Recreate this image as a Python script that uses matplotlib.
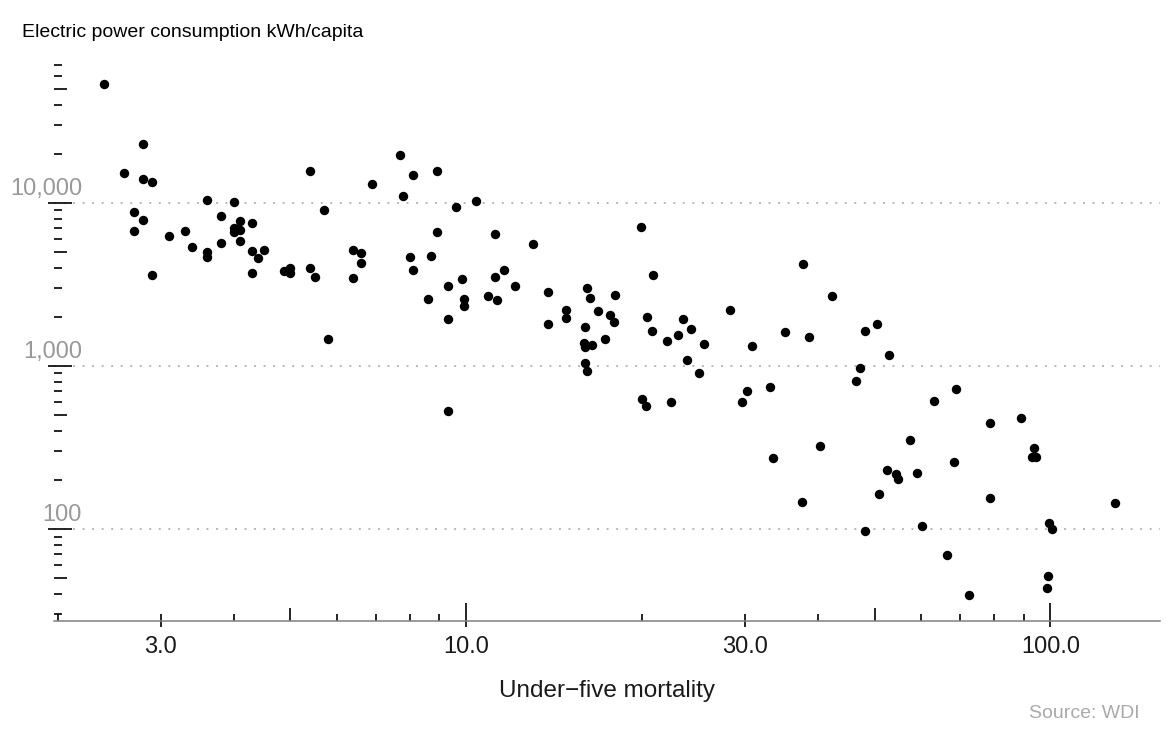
import numpy as np
import matplotlib
matplotlib.use('Agg')
import matplotlib.pyplot as plt
import matplotlib.ticker as ticker
import matplotlib.transforms as mtransforms

plt.rcParams['font.family'] = ['Liberation Sans', 'DejaVu Sans']

# Under-five mortality (per 1,000) vs electric power consumption (kWh/capita)
mortality = [2.40, 2.80, 2.60, 2.80, 2.90, 2.70, 2.80, 2.70, 2.90, 3.10,
             3.30, 3.40, 3.60, 3.60, 3.60, 3.80, 3.80, 4.00, 4.00, 4.00,
             4.10, 4.10, 4.10, 4.04, 4.30, 4.30, 4.40, 4.50, 4.30, 4.88,
             5.00, 5.00, 5.40, 5.40, 5.50, 5.70, 5.80, 6.40, 6.60, 6.60,
             6.40, 6.90, 7.70, 7.80, 8.10, 8.90, 8.00, 8.10, 8.60, 8.70,
             8.90, 9.30, 9.30, 9.60, 9.82, 9.90, 9.90, 10.4, 10.9, 11.2,
             11.2, 11.3, 11.6, 12.1, 13.0, 13.8, 13.8, 14.8, 14.8, 9.30,
             19.9, 20.9, 16.1, 16.3, 18.0, 16.8, 17.6, 17.9, 16.0, 20.4,
             20.8, 23.5, 24.3, 23.0, 22.1, 17.3, 28.3, 37.7, 42.2, 35.1,
             38.6, 48.1, 50.5, 15.9, 16.4, 16.0, 25.5, 30.8, 53.0, 16.0,
             16.1, 23.9, 25.0, 47.2, 46.4, 20.0, 20.3, 22.4, 29.6, 30.2,
             33.1, 68.8, 63.1, 78.9, 89.1, 57.4, 40.3, 33.5, 93.7, 92.9,
             94.6, 68.4, 52.6, 54.5, 54.8, 59.1, 50.8, 37.6, 78.9, 129.0,
             60.3, 48.1, 99.5, 100.8, 66.4, 98.9, 98.7, 72.5]
power = [53700, 23000, 15300, 14000, 13500, 8840, 7830, 6730, 3630, 6300,
         6730, 5370, 10500, 5020, 4680, 8360, 5680, 10100, 7060, 6640,
         7720, 6830, 5870, 6900, 7540, 5100, 4620, 5130, 3700, 3840,
         3990, 3740, 15650, 3980, 3520, 9020, 1470, 5150, 4930, 4290,
         3450, 13000, 19600, 11100, 14800, 15650, 4660, 3880, 2590, 4730,
         6610, 3080, 1950, 9450, 3420, 2590, 2320, 10300, 2700, 6450,
         3520, 2540, 3900, 3080, 5630, 2860, 1820, 2200, 1960, 532,
         7100, 3600, 3020, 2620, 2730, 2170, 2060, 1860, 1735, 2010,
         1650, 1940, 1690, 1550, 1430, 1460, 2210, 4210, 2690, 1610,
         1510, 1650, 1810, 1380, 1345, 1310, 1360, 1330, 1170, 1050,
         936, 1090, 906, 976, 806, 625, 568, 604, 601, 700,
         743, 719, 610, 449, 480, 352, 322, 273, 313, 278,
         278, 258, 230, 217, 203, 221, 165, 146, 155, 145,
         104, 97.2, 109, 100, 69.3, 51.3, 43.6, 39.2]

x_breaks = [3, 10, 30, 100]
x_labels = ['3.0', '10.0', '30.0', '100.0']
y_breaks = [100, 1000, 10000]
y_labels = ['100', '1,000', '10,000']

W, H = 1166, 734
left, right, bottom, top = 54, 1160, 621, 58
axw, axh = right - left, bottom - top

fig = plt.figure(figsize=(W / 100, H / 100), dpi=100)
ax = fig.add_axes([left / W, 1 - bottom / H, axw / W, axh / H])
ax.set_xscale('log')
ax.set_yscale('log')
xlim = (1.97, 154)
ylim = (27.3, 77500)
ax.set_xlim(*xlim)
ax.set_ylim(*ylim)

# dotted horizontal grid
for b in y_breaks:
    ax.axhline(b, color='#b8b8b8', lw=1.4, ls=(0, (1, 3.9)), zorder=1)

ax.scatter(mortality, power, s=46, c='black', linewidths=0, zorder=3, clip_on=False)

for s in ['top', 'right', 'left']:
    ax.spines[s].set_visible(False)
ax.spines['bottom'].set_color('#808080')
ax.spines['bottom'].set_linewidth(1.1)

ax.set_xticks(x_breaks)
ax.set_xticklabels(x_labels)
ax.xaxis.set_minor_locator(ticker.NullLocator())
ax.tick_params(axis='x', which='major', direction='out', length=4.3, width=1.2,
               color='black', labelsize=17, pad=6.5, labelcolor='#1a1a1a')
ax.set_yticks(y_breaks)
ax.set_yticklabels([])
ax.yaxis.set_minor_locator(ticker.NullLocator())
ax.tick_params(axis='y', which='major', direction='out', length=4.3, width=1.2, color='black')


# log ticks drawn inside the panel
def tick_len(m):
    if m == 1:
        return 18.3
    if m == 5:
        return 12.7
    return 7.5


tx = mtransforms.blended_transform_factory(ax.transData, ax.transAxes)
ty = mtransforms.blended_transform_factory(ax.transAxes, ax.transData)
for d in range(0, 3):
    for m in range(1, 10):
        v = m * 10 ** d
        if xlim[0] <= v <= xlim[1]:
            ax.plot([v, v], [0, tick_len(m) / axh], transform=tx, color='black',
                    lw=1.2, clip_on=False, solid_capstyle='butt', zorder=2)
for d in range(1, 5):
    for m in range(1, 10):
        v = m * 10 ** d
        if ylim[0] <= v <= ylim[1]:
            ax.plot([0, tick_len(m) / axw], [v, v], transform=ty, color='black',
                    lw=1.2, clip_on=False, solid_capstyle='butt', zorder=2)

# y labels sit above the grid lines
lab_tr = mtransforms.offset_copy(ax.get_yaxis_transform(), fig=fig, x=28, y=8, units='dots')
for b, lab in zip(y_breaks, y_labels):
    ax.text(0, b, lab, transform=lab_tr, ha='right', va='baseline', fontsize=17, color='#999999')

fig.text(22 / W, 1 - 37 / H, 'Electric power consumption kWh/capita', fontsize=14,
         ha='left', va='baseline')
fig.text((left + right) / 2 / W, 1 - 697 / H, 'Under\u2212five mortality', fontsize=17.5,
         ha='center', va='baseline', color='#1a1a1a')
fig.text(1140 / W, 1 - 718 / H, 'Source: WDI', fontsize=14, ha='right', va='baseline',
         color='#aaaaaa')

fig.savefig('out.png', dpi=100)
